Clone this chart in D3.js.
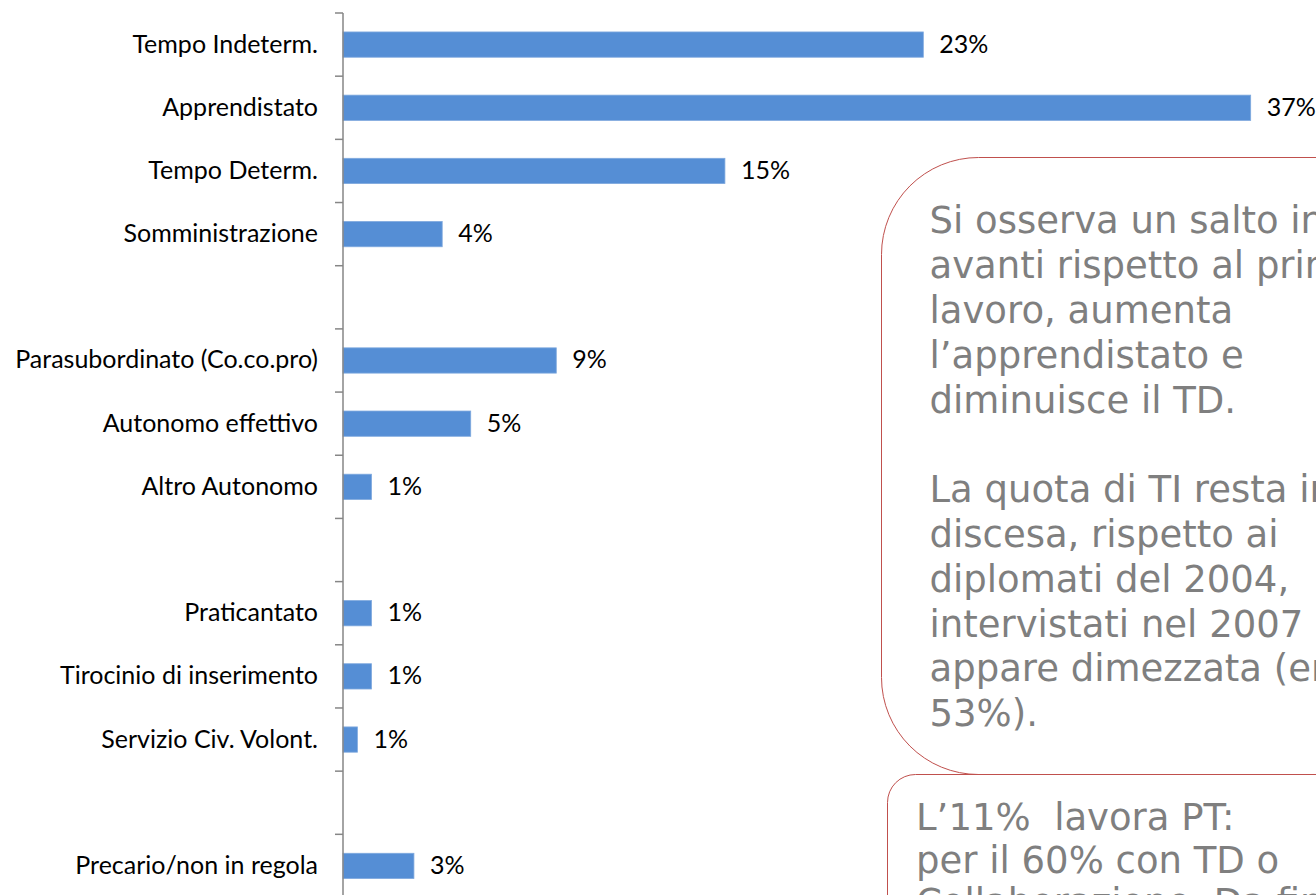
<!DOCTYPE html>
<html>
<head>
<meta charset="utf-8">
<script src="https://cdn.jsdelivr.net/npm/d3@7"></script>
<style>
  body { margin: 0; background: #fff; overflow: hidden; }
  svg { display: block; }
</style>
</head>
<body>
<div id="chart"></div>
<script>

// categories, empty strings are the gaps between the groups
var categories = ["Tempo Indeterm.", "Apprendistato", "Tempo Determ.", "Somministrazione", "",
  "Parasubordinato (Co.co.pro)", "Autonomo effettivo", "Altro Autonomo", "",
  "Praticantato", "Tirocinio di inserimento", "Servizio Civ. Volont.", "",
  "Precario/non in regola"];

// share of diplomati (%) per contract type
var values = [23.4, 36.6, 15.4, 4.0, null,
  8.6, 5.15, 1.15, null,
  1.15, 1.15, 0.58, null,
  2.86];

var note1Lines = ["Si osserva un salto in",
  "avanti rispetto al primo",
  "lavoro, aumenta",
  "l\u2019apprendistato e",
  "diminuisce il TD.",
  "",
  "La quota di TI resta in",
  "discesa, rispetto ai",
  "diplomati del 2004,",
  "intervistati nel 2007",
  "appare dimezzata (era il",
  "53%)."];

var note2Lines = ["L\u201911%  lavora PT:",
  "per il 60% con TD o",
  "Collaborazione, Da fine"];

var width = 1316,
    height = 895;

var svg = d3.select("#chart")
  .append("svg")
    .attr("width", width)
    .attr("height", height);

var idx = d3.range(categories.length);

var y = d3.scaleBand()
  .domain(idx)
  .range([13, 897.5])
  .paddingInner(0.6)
  .paddingOuter(0.3);

var x = d3.scaleLinear()
  .domain([0, 40])
  .range([343, 1335]);

var fmt = function(v) { return Math.round(v) + "%"; };
var labelFont = "Lato, 'Open Sans', sans-serif";

// bars
svg.append("g")
  .selectAll("rect")
  .data(idx.filter(function(i) { return values[i] != null; }))
  .enter().append("rect")
    .attr("x", x(0))
    .attr("y", function(i) { return y(i); })
    .attr("width", function(i) { return x(values[i]) - x(0); })
    .attr("height", y.bandwidth())
    .attr("fill", "#558ed5")
    .attr("stroke", "#7fa9de")
    .attr("stroke-width", 0.8);

// value labels
svg.append("g")
  .selectAll("text")
  .data(idx.filter(function(i) { return values[i] != null; }))
  .enter().append("text")
    .attr("x", function(i) { return x(values[i]) + 16; })
    .attr("y", function(i) { return y(i) + y.bandwidth() / 2; })
    .attr("dy", "0.32em")
    .style("font-family", labelFont)
    .style("font-size", "25px")
    .attr("fill", "#000")
    .text(function(i) { return fmt(values[i]); });

// category axis: line + ticks between the bands
var step = y.step();
var axis = svg.append("g");
axis.append("line")
  .attr("x1", x(0)).attr("x2", x(0))
  .attr("y1", y.range()[0]).attr("y2", height + 5)
  .attr("stroke", "#868686")
  .attr("stroke-width", 1.5);

axis.selectAll(".tick")
  .data(idx.concat([categories.length]))
  .enter().append("line")
    .attr("class", "tick")
    .attr("x1", x(0) - 8).attr("x2", x(0))
    .attr("y1", function(i) { return y.range()[0] + i * step; })
    .attr("y2", function(i) { return y.range()[0] + i * step; })
    .attr("stroke", "#868686")
    .attr("stroke-width", 1.5);

axis.selectAll(".cat")
  .data(idx)
  .enter().append("text")
    .attr("class", "cat")
    .attr("x", 318)
    .attr("y", function(i) { return y(i) + y.bandwidth() / 2; })
    .attr("dy", "0.32em")
    .attr("text-anchor", "end")
    .style("font-family", labelFont)
    .style("font-size", "25px")
    .attr("fill", "#000")
    .text(function(i) { return categories[i]; });

// comment boxes on the right
var noteFont = "'DejaVu Sans', Verdana, sans-serif";

svg.append("rect")
  .attr("x", 881.5).attr("y", 157.5)
  .attr("width", 700).attr("height", 617)
  .attr("rx", 97).attr("ry", 97)
  .attr("fill", "#fff")
  .attr("stroke", "#c0504d")
  .attr("stroke-width", 1);

svg.append("g")
  .selectAll("text")
  .data(note1Lines)
  .enter().append("text")
    .attr("x", 929.5)
    .attr("y", function(d, i) { return 233.3 + i * 44.8; })
    .style("font-family", noteFont)
    .style("font-size", "37px")
    .attr("fill", "#7f7f7f")
    .text(function(d) { return d; });

svg.append("rect")
  .attr("x", 887.5).attr("y", 774.5)
  .attr("width", 700).attr("height", 300)
  .attr("rx", 28).attr("ry", 28)
  .attr("fill", "#fff")
  .attr("stroke", "#c0504d")
  .attr("stroke-width", 1);

svg.append("g")
  .selectAll("text")
  .data(note2Lines)
  .enter().append("text")
    .attr("x", 916)
    .attr("y", function(d, i) { return 830 + i * 42.5; })
    .style("font-family", noteFont)
    .style("font-size", "37px")
    .attr("fill", "#7f7f7f")
    .style("white-space", "pre")
    .text(function(d) { return d; });

</script>
</body>
</html>
